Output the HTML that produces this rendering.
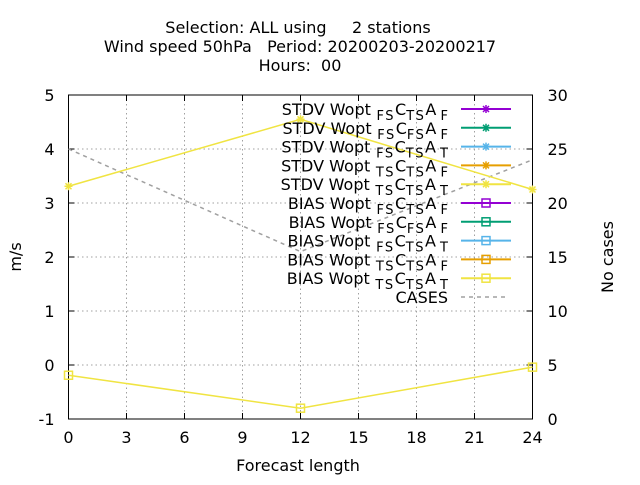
<!DOCTYPE html>
<html><head><meta charset="utf-8"><style>
body{margin:0;background:#fff}
svg{font-family:"DejaVu Sans","Liberation Sans",sans-serif}
</style></head><body>
<svg width="640" height="480">
<g font-size="16" text-anchor="middle" fill="#000">
<text x="298" y="33" xml:space="preserve">Selection: ALL using     2 stations</text>
<text x="300" y="52" xml:space="preserve">Wind speed 50hPa   Period: 20200203-20200217</text>
<text x="300" y="71" xml:space="preserve">Hours:  00</text>
</g>
<g id="grid"></g>
<g id="axes"></g>
<g id="series"></g>
<g id="legend"></g>
<text x="298" y="471" font-size="16" text-anchor="middle">Forecast length</text>
<text transform="translate(21,257) rotate(-90)" font-size="16" text-anchor="middle">m/s</text>
<text transform="translate(613,257) rotate(-90)" font-size="16" text-anchor="middle">No cases</text>
</svg>
<script>
const xTicks=[0,3,6,9,12,15,18,21,24];
const yTicks=[-1,0,1,2,3,4,5];
const y2Ticks=[0,5,10,15,20,25,30];
const leadTimes=[0,12,24];
const stdvTsTsAt=[3.31,4.55,3.25];
const biasTsTsAt=[-0.19,-0.8,-0.04];
const cases=[25,15.5,24];
const legendLabels=[
 ["STDV","FS","TS","F"],["STDV","FS","FS","F"],["STDV","FS","TS","T"],["STDV","TS","TS","F"],["STDV","TS","TS","T"],
 ["BIAS","FS","TS","F"],["BIAS","FS","FS","F"],["BIAS","FS","TS","T"],["BIAS","TS","TS","F"],["BIAS","TS","TS","T"]];
const legendColors=["#9400d3","#009e73","#56b4e9","#e69f00","#f0e442","#9400d3","#009e73","#56b4e9","#e69f00","#f0e442"];

const L=68.5,R=532.5,T=95,B=419;
const X=v=>L+(v-0)/(24-0)*(R-L);
const Y=v=>B-(v+1)/6*(B-T);
const Y2=v=>B-v/30*(B-T);
const NS="http://www.w3.org/2000/svg";
function mk(p,tag,a,txt){const e=document.createElementNS(NS,tag);for(const k in a)e.setAttribute(k,a[k]);if(txt!==undefined)e.textContent=txt;p.appendChild(e);return e;}
const grid=document.getElementById('grid'),axes=document.getElementById('axes'),ser=document.getElementById('series'),leg=document.getElementById('legend');

yTicks.forEach(v=>{
 if(v>-1&&v<5){const g=mk(grid,'line',{x1:L,x2:R,y1:Y(v),y2:Y(v),stroke:'#a0a0a0','stroke-dasharray':'1.5,3','stroke-width':1});
 }
 mk(axes,'line',{x1:L,x2:L+6,y1:Y(v),y2:Y(v),stroke:'#000'});
 const t=mk(axes,'text',{x:L-14,y:Y(v)+6,'font-size':16,'text-anchor':'end'},String(v));
 
});
xTicks.forEach(v=>{
 if(v>0&&v<24){const g=mk(grid,'line',{x1:X(v),x2:X(v),y1:T,y2:B,stroke:'#a0a0a0','stroke-dasharray':'1.5,3','stroke-width':1});
 }
 mk(axes,'line',{x1:X(v),x2:X(v),y1:B,y2:B-6,stroke:'#000'});
 mk(axes,'line',{x1:X(v),x2:X(v),y1:T,y2:T+6,stroke:'#000'});
 const t=mk(axes,'text',{x:X(v),y:B+24,'font-size':16,'text-anchor':'middle'},String(v));
 
});
y2Ticks.forEach(v=>{
 mk(axes,'line',{x1:R,x2:R-6,y1:Y2(v),y2:Y2(v),stroke:'#000'});
 const t=mk(axes,'text',{x:R+15,y:Y2(v)+6,'font-size':16,'text-anchor':'start'},String(v));
 
});
const fr=mk(axes,'rect',{x:L,y:T,width:R-L,height:B-T,fill:'none',stroke:'#000','stroke-width':1});


function star(p,x,y,c){mk(p,'path',{d:`M${x-4},${y}H${x+4}M${x},${y-4}V${y+4}M${x-3},${y-3}L${x+3},${y+3}M${x-3},${y+3}L${x+3},${y-3}`,stroke:c,'stroke-width':1.5,fill:'none'});}
function sq(p,x,y,c){mk(p,'rect',{x:x-4,y:y-4,width:8,height:8,stroke:c,'stroke-width':1.5,fill:'none'});}

const cl=mk(ser,'polyline',{points:leadTimes.map((t,i)=>X(t)+','+Y2(cases[i])).join(' '),fill:'none',stroke:'#a0a0a0','stroke-width':1.5,'stroke-dasharray':'4,4'});

const sl=mk(ser,'polyline',{points:leadTimes.map((t,i)=>X(t)+','+Y(stdvTsTsAt[i])).join(' '),fill:'none',stroke:'#f0e442','stroke-width':1.5});

leadTimes.forEach((t,i)=>star(ser,X(t),Y(stdvTsTsAt[i]),'#f0e442'));
const bl=mk(ser,'polyline',{points:leadTimes.map((t,i)=>X(t)+','+Y(biasTsTsAt[i])).join(' '),fill:'none',stroke:'#f0e442','stroke-width':1.5});

leadTimes.forEach((t,i)=>sq(ser,X(t),Y(biasTsTsAt[i]),'#f0e442'));

legendLabels.forEach((lb,i)=>{
 const y=109+i*18.8;
 const g=mk(leg,'g',{});
 
 const t=mk(g,'text',{x:448,y:y+6,'font-size':16,'text-anchor':'end'});
 mk(t,'tspan',{},lb[0]+' Wopt');
 mk(t,'tspan',{dy:5,'font-size':13,'letter-spacing':1.5},' '+lb[1]);
 mk(t,'tspan',{dy:-5},'C');
 mk(t,'tspan',{dy:5,'font-size':13,'letter-spacing':1.5},lb[2]);
 mk(t,'tspan',{dy:-5},'A');
 mk(t,'tspan',{dy:5,'font-size':13},' '+lb[3]);
 mk(g,'line',{x1:461,x2:511,y1:y,y2:y,stroke:legendColors[i],'stroke-width':2});
 if(i<5)star(g,486,y,legendColors[i]);else sq(g,486,y,legendColors[i]);
});
const cg=mk(leg,'g',{});

mk(cg,'text',{x:448,y:109+10*18.8+6,'font-size':16,'text-anchor':'end'},'CASES');
mk(cg,'line',{x1:461,x2:505,y1:109+10*18.8,y2:109+10*18.8,stroke:'#a0a0a0','stroke-width':1.5,'stroke-dasharray':'4,4'});
</script>
</body></html>
